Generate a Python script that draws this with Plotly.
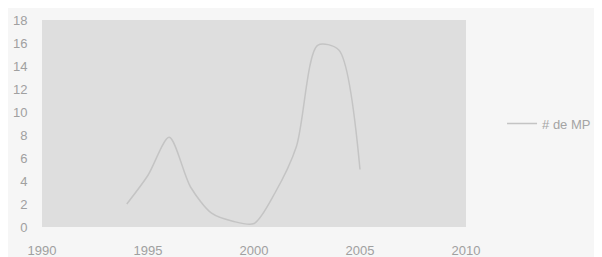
import plotly.graph_objects as go

years = [1994, 1995, 1996, 1997, 1998, 1999, 2000, 2001, 2002, 2003, 2004, 2005]
mp_count = [2, 4.5, 7.8, 3.5, 1.2, 0.5, 0.3, 3, 7, 15.8, 15.4, 5]
x_ticks = [1990, 1995, 2000, 2005, 2010]
y_ticks = [0, 2, 4, 6, 8, 10, 12, 14, 16, 18]
series_name = "# de MP"

fig = go.Figure()
fig.add_trace(go.Scatter(
    x=years, y=mp_count, mode="lines", name=series_name,
    line=dict(color="#c4c4c4", width=1.5, shape="spline", smoothing=0.8),
))

fig.update_layout(
    width=602, height=257,
    margin=dict(l=34, r=144, t=12, b=38),
    paper_bgcolor="#f6f6f6",
    plot_bgcolor="#dedede",
    font=dict(family="Liberation Sans, Arial, sans-serif", size=13, color="#a0a0a0"),
    showlegend=True,
    legend=dict(x=1.085, y=0.5, xanchor="left", yanchor="middle",
                bgcolor="rgba(0,0,0,0)", font=dict(size=13, color="#a4a4a4")),
    xaxis=dict(range=[1990, 2010], tickvals=x_ticks, showgrid=False, zeroline=False,
               showline=False, ticks="outside", ticklen=11, tickcolor="rgba(0,0,0,0)",
               automargin=False),
    yaxis=dict(range=[0, 18], tickvals=y_ticks, showgrid=False, zeroline=False,
               showline=False, ticks="outside", ticklen=11, tickcolor="rgba(0,0,0,0)",
               automargin=False),
)

fig.write_html("out.html")
